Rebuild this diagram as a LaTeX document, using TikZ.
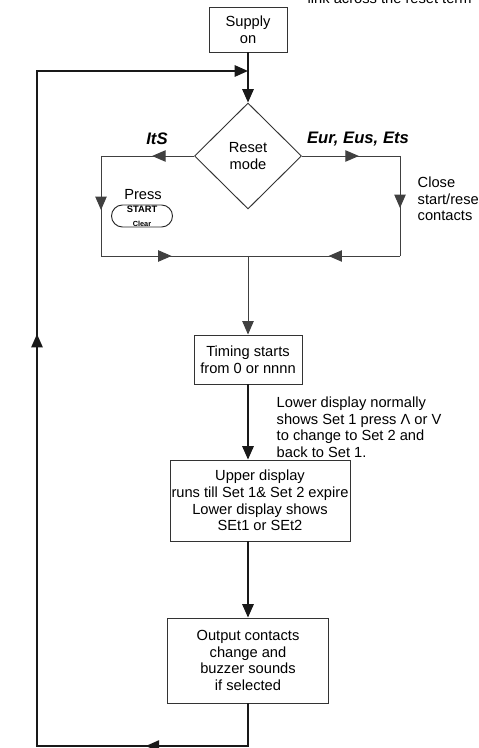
\documentclass[tikz,border=0pt]{standalone}
\usepackage{fontspec}
\setmainfont{Liberation Sans}
\usetikzlibrary{shapes.geometric,shapes.misc,arrows.meta,decorations.markings}

\begin{document}
\begin{tikzpicture}[
        x=0.75pt, y=-0.75pt,
        font=\fontsize{11}{12.5}\selectfont,
        box/.style={rectangle, draw=black!80, line width=0.7pt, align=center, inner sep=0pt},
        flow/.style={line width=1.3pt, draw=black!90},
        thin/.style={line width=0.7pt, draw=black!75},
        tip/.style={-{Triangle[length=10pt, width=8.5pt]}},
        midarrow/.style={postaction={decorate}, decoration={markings,
            mark=at position #1 with {\arrow{Triangle[length=10pt, width=8.5pt]}}}},
        twoarrows/.style 2 args={postaction={decorate}, decoration={markings,
            mark=at position #1 with {\arrow{Triangle[length=10pt, width=8.5pt]}},
            mark=at position #2 with {\arrow{Triangle[length=10pt, width=8.5pt]}}}},
        lbl/.style={font=\fontsize{12.5}{14}\selectfont\bfseries\itshape}
    ]
        \useasboundingbox (0,0) rectangle (478,748);

        \node[anchor=base west] (link) at (303,4) {link across the reset term};

        \node[box, minimum width=58.5pt, minimum height=33.75pt] (supply) at (248,29.5) {Supply\\on};
        \node[diamond, draw=black!80, line width=0.7pt, inner sep=0pt, align=center,
              minimum width=80.25pt, minimum height=79.5pt] (reset) at (248,156) {Reset\\mode};
        \node[box, minimum width=81pt, minimum height=36.75pt] (timing) at (248,359.5) {Timing starts\\from 0 or nnnn};
        \node[box, minimum width=135pt, minimum height=60.75pt] (upper) at (260,500.5)
            {Upper display\\runs till Set 1\& Set 2 expire\\Lower display shows\\SEt1 or SEt2};
        \node[box, minimum width=120.75pt, minimum height=63.75pt] (output) at (248,660.5)
            {Output contacts\\change and\\buzzer sounds\\if selected};

        \node[lbl] (its) at (157,139) {ItS};
        \node[lbl] (eur) at (358,139) {Eur, Eus, Ets};
        \node (press) at (143,195) {Press};
        \node[rounded rectangle, draw=black!85, line width=0.7pt, inner sep=0pt, align=center,
              minimum width=45.75pt, minimum height=16.5pt] (startkey) at (142,216)
            {{\fontsize{7}{7}\selectfont\bfseries START}\\[-2pt]{\fontsize{5.5}{5.5}\selectfont\bfseries Clear}};
        \node[anchor=west, align=left] (close) at (413,199) {Close\\start/rese\\contacts};
        \node[anchor=north west, align=left] (note) at (272,392)
            {Lower display normally\\shows Set 1 press Λ or V\\to change to Set 2 and\\back to Set 1.};

        \coordinate (join) at (248,71);
        \coordinate (lt) at (101,156);
        \coordinate (lb) at (101,256);
        \coordinate (rt) at (400,156);
        \coordinate (rb) at (400,256);
        \coordinate (merge) at (248,256);
        \coordinate (loopb) at (248,746);
        \coordinate (loopl) at (37,746);
        \coordinate (loopt) at (37,71);

        \draw[flow, tip] (supply) -- (reset);
        \draw[thin, midarrow=0.45] (reset.west) -- (lt);
        \draw[thin, midarrow=0.54] (lt) -- (lb);
        \draw[thin, midarrow=0.48] (lb) -- (merge);
        \draw[thin, midarrow=0.58] (reset.east) -- (rt);
        \draw[thin, midarrow=0.52] (rt) -- (rb);
        \draw[thin, midarrow=0.47] (rb) -- (merge);
        \draw[thin, tip] (merge) -- (timing);
        \draw[flow, tip] (timing) -- (timing.south |- upper.north);
        \draw[flow, tip] (upper.south -| output.north) -- (output);
        \draw[flow, twoarrows={0.127}{0.584}, tip] (output) -- (loopb) -- (loopl) -- (loopt) -- (join);
    \end{tikzpicture}
\end{document}
